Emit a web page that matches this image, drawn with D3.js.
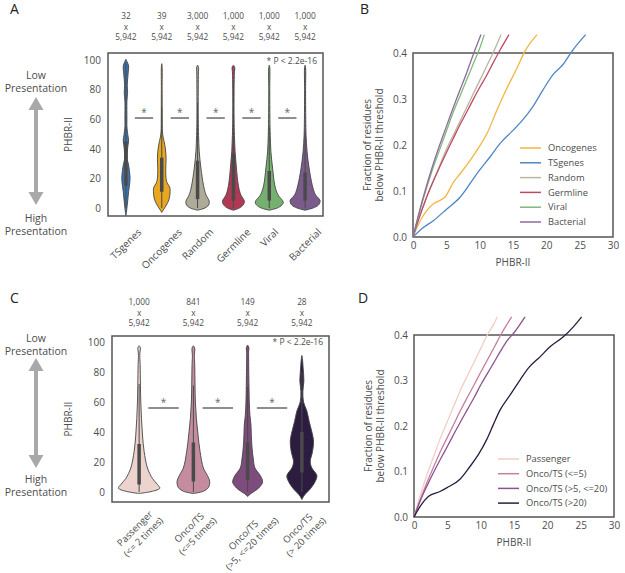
<!DOCTYPE html>
<html><head><meta charset="utf-8">
<script src="https://cdn.jsdelivr.net/npm/d3@7"></script>
<style>
body{margin:0;background:#fff;}
svg{font-family:"Open Sans",sans-serif;}
text{fill:#4d4d4d;}
</style></head>
<body><svg id="c" width="625" height="573"></svg>
<script>
// ---------------- DATA ----------------
const catsA = ["TSgenes","Oncogenes","Random","Germline","Viral","Bacterial"];
const countsA = ["32","39","3,000","1,000","1,000","1,000"];
const catsC = [["Passenger","(<= 2 times)"],["Onco/TS","(<=5 times)"],["Onco/TS","(>5, <=20 times)"],["Onco/TS","(> 20 times)"]];
const countsC = ["1,000","841","149","28"];
const nResidues = "5,942";
const pText = "* P < 2.2e-16";
const yTicksViolin = [0,20,40,60,80,100];
const xTicksCdf = [0,5,10,15,20,25,30];
const yTicksCdf = [0,0.1,0.2,0.3,0.4];

// violin density profiles: [PHBR-II value, relative density]
const violinTSgenes   = [[-5,0],[-2,2],[0,3],[4,5],[11,8],[18,12],[22,12],[29,8],[33,4],[40,5],[46,8],[49,6],[55,3],[60,3],[72,3],[78,5],[83,4],[92,7],[96,8],[99,3],[100.5,0]];
const violinOncogenes = [[-3,0],[-1.5,4],[2,14],[6,22],[11,25],[14,24],[17,16],[20,13],[27,12],[33,13],[40,11],[45,7],[48,4],[52,2],[60,1.5],[80,1.2],[96,1],[97.5,0]];
const violinRandom    = [[-1.5,0],[0,22],[2,33],[4.5,35],[9,25],[15,18],[27,10],[38,5],[49,3],[60,2],[80,2],[92,2.5],[95,3],[96.5,0]];
const violinGermline  = [[-1.5,0],[0,18],[2,29],[4.5,33],[9,22],[15,15],[27,9],[38,5],[49,3],[60,2],[80,2],[92,3],[95,4],[96.5,0]];
const violinViral     = [[-1.5,0],[0,24],[2,38],[4,42],[9,26],[15,17],[27,10],[38,5],[49,3],[60,2],[80,1.5],[95,1.5],[96.5,0]];
const violinBacterial = [[-1.5,0],[0,24],[2,40],[5,45],[9,31],[15,22],[27,12],[38,6],[49,3],[60,2],[80,1.5],[95,1.5],[96.5,0]];

const violinPassenger = [[-1,0],[0.5,40],[2.5,62],[5,55],[9,40],[16,25],[27,15],[38,10],[49,7],[60,5],[71,4],[85,3],[91,2],[94,3],[96,4],[97.5,0]];
const violinOnco5     = [[-1,0],[0.5,30],[3,45],[7,49],[11,42],[16,30],[27,20],[38,14],[49,9],[60,6],[71,5],[85,4],[91,3],[94,4],[96,4],[97.5,0]];
const violinOnco5to20 = [[-3,0],[-1,10],[2,30],[5,42],[7,45],[11,38],[16,22],[22,17],[30,13],[38,11],[44.7,10],[51,7],[60,5],[71,4],[88,3],[94,3],[96,4],[98,0]];
const violinOnco20    = [[-5,0],[-2,8],[2,25],[7,40],[11,45],[16,30],[20,25],[27,32],[34,35],[40,30],[47,22],[54,15],[60,5],[67,3],[74,6],[82,4],[88,2],[91,0]];

// inner boxes: [lowWhisker, q1, q3, highWhisker]
const boxesA = [[0,15,45,98],[0,11,34,68],[0,6,32,71],[0,5,37,85],[0,5,25,55],[0,5,24,52]];
const boxesC = [[0,5,32,72],[0,7,33,71],[0,8,33,70],[0,13,40,80]];

const violinColorsA = ["#3b73b2","#e7a820","#aeab99","#b03a55","#76b06e","#7b5b8c"];
const violinColorsC = ["#ecd3cd","#c58ca0","#7e4b7d","#2c1c40"];

// CDF curves (panel B): [PHBR-II, fraction]
const cdfOncogenes = [[0,0],[1.1,0.036],[2.1,0.058],[3.1,0.073],[4.1,0.08],[4.8,0.087],[6.1,0.12],[7.1,0.138],[8.6,0.167],[9.8,0.193],[11.1,0.225],[12.6,0.276],[14.1,0.324],[15.5,0.364],[16.8,0.404],[18.6,0.44]];
const cdfTSgenes = [[0,0],[1.5,0.02],[3.1,0.036],[5,0.06],[7.1,0.087],[9.6,0.138],[11.6,0.175],[13.1,0.204],[14.8,0.229],[16.5,0.255],[18,0.284],[19.5,0.32],[21,0.353],[22.5,0.375],[24,0.407],[25.9,0.44]];
const cdfRandom = [[0,0],[1,0.045],[2,0.085],[3,0.12],[4,0.155],[5,0.19],[6,0.22],[7,0.25],[8,0.28],[9,0.31],[10,0.34],[11,0.37],[12,0.4],[13.2,0.44]];
const cdfGermline = [[0,0],[1,0.045],[2,0.085],[3,0.12],[4,0.152],[5,0.183],[6,0.213],[7,0.243],[8,0.27],[9,0.298],[10,0.325],[11,0.35],[12,0.378],[13,0.405],[14.4,0.44]];
const cdfViral = [[0,0],[1,0.055],[2,0.105],[3,0.15],[4,0.19],[5,0.23],[6,0.27],[7,0.305],[8,0.34],[9,0.375],[10,0.41],[10.7,0.44]];
const cdfBacterial = [[0,0],[1,0.058],[2,0.11],[3,0.157],[4,0.2],[5,0.24],[6,0.28],[7,0.318],[8,0.355],[9,0.395],[10.2,0.44]];
const legendB = ["Oncogenes","TSgenes","Random","Germline","Viral","Bacterial"];
const lineColorsB = ["#f2b541","#4f86c6","#bab6a4","#c04a62","#7fba7a","#8e6b9c"];

// CDF curves (panel D)
const cdfPassenger = [[0,0],[1,0.05],[2,0.095],[3,0.135],[4,0.175],[5,0.21],[6,0.245],[7,0.28],[8,0.31],[9,0.34],[10,0.37],[11,0.4],[12,0.425],[12.5,0.44]];
const cdfOnco5 = [[0,0],[1,0.04],[2,0.078],[3,0.112],[4,0.145],[5,0.175],[6,0.205],[7,0.235],[8,0.263],[9,0.29],[10,0.318],[11,0.345],[12,0.372],[13,0.4],[14.65,0.44]];
const cdfOnco5to20 = [[0,0],[1,0.038],[2,0.07],[3,0.1],[4,0.128],[5,0.155],[6,0.183],[7,0.21],[8,0.236],[9,0.262],[10,0.29],[11,0.315],[12,0.34],[13,0.365],[14,0.388],[15,0.405],[16.65,0.44]];
const cdfOnco20 = [[0,0],[1,0.025],[2.15,0.045],[3.9,0.056],[4.9,0.064],[6.9,0.083],[8.4,0.111],[9.65,0.137],[10.9,0.17],[11.9,0.203],[12.9,0.235],[14.4,0.268],[15.9,0.301],[17.15,0.327],[18.9,0.352],[20.4,0.374],[22.4,0.396],[23.9,0.418],[25.15,0.44]];
const legendD = ["Passenger","Onco/TS (<=5)","Onco/TS (>5, <=20)","Onco/TS (>20)"];
const lineColorsD = ["#f2cdc5","#c97e9e","#8c5290","#2c1c40"];

// ---------------- DRAW ----------------
const svg = d3.select("#c");
const frameColor = "#555";
const densW = d3.scaleLinear().domain([0,60]).range([0,20]);

function panelLetter(t,x,y){ svg.append("text").attr("x",x).attr("y",y).attr("font-size",14).style("fill","#222").text(t); }

function presentationArrow(topY, arrTop, arrBot, botY){
  const cx = 36;
  const g = svg.append("g");
  g.append("text").attr("x",cx).attr("y",topY).attr("text-anchor","middle").attr("font-size",10.5).text("Low");
  g.append("text").attr("x",cx).attr("y",topY+13).attr("text-anchor","middle").attr("font-size",10.5).text("Presentation");
  g.append("text").attr("x",cx).attr("y",botY).attr("text-anchor","middle").attr("font-size",10.5).text("High");
  g.append("text").attr("x",cx).attr("y",botY+13).attr("text-anchor","middle").attr("font-size",10.5).text("Presentation");
  const col="#a9a9a9";
  g.append("line").attr("x1",cx).attr("x2",cx).attr("y1",arrTop+10).attr("y2",arrBot-10).attr("stroke",col).attr("stroke-width",4);
  g.append("path").attr("d",`M${cx},${arrTop} L${cx-7.5},${arrTop+13} L${cx+7.5},${arrTop+13} Z`).attr("fill",col);
  g.append("path").attr("d",`M${cx},${arrBot} L${cx-7.5},${arrBot-13} L${cx+7.5},${arrBot-13} Z`).attr("fill",col);
}

function rotatedLabel(lines, cx, top, fs, lh){
  const t = svg.append("text").attr("text-anchor","middle").attr("font-size",fs);
  const n = lines.length;
  lines.forEach((s,i)=>{
    t.append("tspan").attr("x",0).attr("y",(i-(n-1)/2)*lh).attr("dy","0.35em").text(s);
  });
  const W = t.node().getBBox().width;
  const H = n*lh;
  t.attr("transform",`translate(${cx},${top+(W+H)*0.3536}) rotate(-45)`);
}

function violinPanel(opt){
  const {x0,x1,yTop,yBot,y0px,y100px,cats,counts,profiles,boxes,colors,sigV,sigFrom,sigTo,countsY,labelTop,labelFs,labelLh,pY,ylabX} = opt;
  const y = d3.scaleLinear().domain([0,100]).range([y0px,y100px]);
  const x = d3.scaleBand().domain(d3.range(cats.length)).range([x0,x1]);
  const bw = x.bandwidth();
  const cxs = d3.range(cats.length).map(i=>x(i)+bw/2);
  svg.append("rect").attr("x",x0).attr("y",yTop).attr("width",x1-x0).attr("height",yBot-yTop)
    .attr("fill","none").attr("stroke",frameColor).attr("stroke-width",1.5);
  const ya = svg.append("g").attr("transform",`translate(${x0-7},0)`)
    .call(d3.axisLeft(y).tickValues(yTicksViolin).tickSize(0).tickPadding(0));
  ya.select(".domain").remove();
  ya.selectAll("text").attr("font-size",10).style("fill","#4d4d4d").attr("font-family","Open Sans");
  svg.append("text").attr("transform",`translate(${ylabX},${(yTop+yBot)/2}) rotate(-90)`)
    .attr("text-anchor","middle").attr("font-size",10).text("PHBR-II");
  profiles.forEach((p,i)=>{
    const cx = cxs[i];
    const area = d3.area().curve(d3.curveCatmullRom.alpha(0.5))
      .y(d=>y(d[0])).x0(d=>cx-densW(d[1])).x1(d=>cx+densW(d[1]));
    svg.append("path").datum(p).attr("d",area).attr("fill",colors[i])
      .attr("stroke","#444").attr("stroke-width",0.9).attr("stroke-linejoin","round");
    const b = boxes[i];
    svg.append("line").attr("x1",cx).attr("x2",cx).attr("y1",y(b[0])).attr("y2",y(b[3]))
      .attr("stroke","#4a4a4a").attr("stroke-width",1);
    svg.append("line").attr("x1",cx).attr("x2",cx).attr("y1",y(b[1])).attr("y2",y(b[2]))
      .attr("stroke","#4a4a4a").attr("stroke-width",3.5);
  });
  for(let i=0;i<cats.length-1;i++){
    const a = cxs[i]+bw*sigFrom, c = cxs[i]+bw*sigTo;
    svg.append("line").attr("x1",a).attr("x2",c).attr("y1",y(sigV)).attr("y2",y(sigV))
      .attr("stroke","#444").attr("stroke-width",1.2);
    svg.append("text").attr("x",(a+c)/2).attr("y",y(sigV)-2).attr("text-anchor","middle")
      .attr("font-size",10).style("fill","#666").text("*");
  }
  svg.append("text").attr("x",x1-6).attr("y",pY).attr("text-anchor","end").attr("font-size",8.5).text(pText);
  counts.forEach((c,i)=>{
    [c,"x",nResidues].forEach((s,k)=>{
      svg.append("text").attr("x",cxs[i]).attr("y",countsY+k*10.5).attr("text-anchor","middle")
        .attr("font-size",8.3).text(s);
    });
  });
  cats.forEach((c,i)=>{
    rotatedLabel(Array.isArray(c)?c:[c], cxs[i], labelTop, labelFs, labelLh);
  });
}

function cdfPanel(opt){
  const {x0,x1,yTop,yBot,series,colors,names,legX,legY,legStep} = opt;
  const x = d3.scaleLinear().domain([0,30]).range([x0,x1]);
  const y = d3.scaleLinear().domain([0,0.4]).range([yBot,yTop]);
  svg.append("rect").attr("x",x0).attr("y",yTop).attr("width",x1-x0).attr("height",yBot-yTop)
    .attr("fill","none").attr("stroke",frameColor).attr("stroke-width",1.5);
  const xa = svg.append("g").attr("transform",`translate(0,${yBot+5})`)
    .call(d3.axisBottom(x).tickValues(xTicksCdf).tickSize(0).tickPadding(0).tickFormat(d3.format("d")));
  xa.select(".domain").remove();
  xa.selectAll("text").attr("font-size",10).style("fill","#4d4d4d").attr("font-family","Open Sans").attr("dy","0.71em");
  const ya = svg.append("g").attr("transform",`translate(${x0-6},0)`)
    .call(d3.axisLeft(y).tickValues(yTicksCdf).tickSize(0).tickPadding(0).tickFormat(d3.format(".1f")));
  ya.select(".domain").remove();
  ya.selectAll("text").attr("font-size",10).style("fill","#4d4d4d").attr("font-family","Open Sans");
  svg.append("text").attr("x",(x0+x1)/2).attr("y",yBot+29).attr("text-anchor","middle").attr("font-size",10).text("PHBR-II");
  const cy = (yTop+yBot)/2;
  svg.append("text").attr("transform",`translate(${x0-42},${cy}) rotate(-90)`).attr("text-anchor","middle").attr("font-size",10).text("Fraction of residues");
  svg.append("text").attr("transform",`translate(${x0-30},${cy}) rotate(-90)`).attr("text-anchor","middle").attr("font-size",10).text("below PHBR-II threshold");
  const line = d3.line().curve(d3.curveMonotoneX).x(d=>x(d[0])).y(d=>y(d[1]));
  series.forEach((s,i)=>{
    svg.append("path").datum(s).attr("d",line).attr("fill","none").attr("stroke",colors[i]).attr("stroke-width",1.3);
  });
  names.forEach((n,i)=>{
    const yy = legY + i*legStep;
    svg.append("line").attr("x1",legX).attr("x2",legX+21).attr("y1",yy).attr("y2",yy).attr("stroke",colors[i]).attr("stroke-width",1.5);
    svg.append("text").attr("x",legX+28).attr("y",yy).attr("dy","0.35em").attr("font-size",9.3).text(n);
  });
}

panelLetter("A",10,14);
panelLetter("B",360,14);
panelLetter("C",10,303);
panelLetter("D",358,303);

presentationArrow(79, 97, 205, 222);
presentationArrow(342, 358, 468, 483);

violinPanel({x0:108,x1:323,yTop:53,yBot:216,y0px:208,y100px:60,cats:catsA,counts:countsA,
  profiles:[violinTSgenes,violinOncogenes,violinRandom,violinGermline,violinViral,violinBacterial],
  boxes:boxesA,colors:violinColorsA,sigV:60.8,sigFrom:0.25,sigTo:0.76,countsY:19,labelTop:226,labelFs:10,labelLh:12,pY:64,ylabX:72});

violinPanel({x0:112,x1:329,yTop:336,yBot:502,y0px:492,y100px:342,cats:catsC,counts:countsC,
  profiles:[violinPassenger,violinOnco5,violinOnco5to20,violinOnco20],
  boxes:boxesC,colors:violinColorsC,sigV:56,sigFrom:0.17,sigTo:0.73,countsY:305,labelTop:506,labelFs:9.5,labelLh:12,pY:345,ylabX:72});

cdfPanel({x0:413,x1:613,yTop:53,yBot:237,series:[cdfOncogenes,cdfTSgenes,cdfRandom,cdfGermline,cdfViral,cdfBacterial],
  colors:lineColorsB,names:legendB,legX:520,legY:148,legStep:14.8});

cdfPanel({x0:414,x1:614,yTop:335,yBot:517,series:[cdfPassenger,cdfOnco5,cdfOnco5to20,cdfOnco20],
  colors:lineColorsD,names:legendD,legX:498,legY:459,legStep:14.7});
</script></body></html>
